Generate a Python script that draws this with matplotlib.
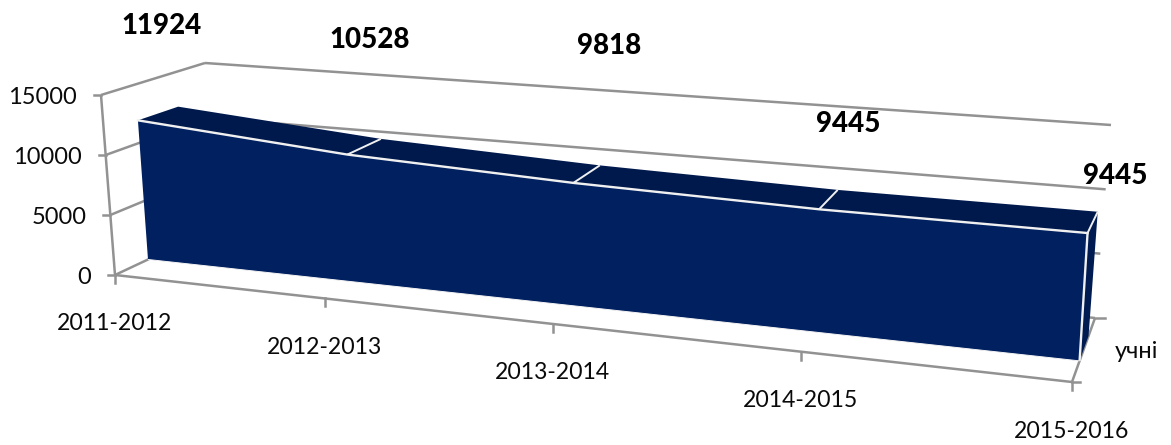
import numpy as np
import matplotlib
matplotlib.use("Agg")
import matplotlib.pyplot as plt

categories = ["2011-2012", "2012-2013", "2013-2014", "2014-2015", "2015-2016"]
values = [11924, 10528, 9818, 9445, 9445]
y_ticks = [0, 5000, 10000, 15000]
series_name = "учні"

W, H = 1171, 445
YMAX = 15000
N = len(categories) - 1

# pixel corners of the 3D box: (category end, value end, depth end)
C = {
    (0, 0, 0): (115, 275), (0, 1, 0): (101, 95),
    (0, 0, 1): (215, 228), (0, 1, 1): (205, 63),
    (1, 0, 0): (1072, 382), (1, 1, 0): (1083, 174),
    (1, 0, 1): (1095, 318), (1, 1, 1): (1111, 125),
}
PERSP = -0.157
D0, D1 = 0.33, 0.72  # depth of the area series inside the box


def project(u, v, w):
    """Category index, value, depth -> pixel coordinates."""
    u, v, w = np.broadcast_arrays(np.asarray(u, float), np.asarray(v, float), np.asarray(w, float))
    s = u / N
    s = s * (1 + PERSP) / (1 + PERSP * s)
    t = v / YMAX
    px = np.zeros(u.shape)
    py = np.zeros(u.shape)
    for (a, b, c), (x, y) in C.items():
        k = (s if a else 1 - s) * (t if b else 1 - t) * (w if c else 1 - w)
        px += k * x
        py += k * y
    return px, py


plt.rcParams["font.family"] = ["Lato", "DejaVu Sans"]
fig = plt.figure(figsize=(W / 100, H / 100), dpi=100)
ax = fig.add_axes([0, 0, 1, 1])
ax.set_xlim(0, W)
ax.set_ylim(H, 0)
ax.axis("off")

GRAY = "#929292"
LW = 1.8
FRONT = "#002060"
TOP = "#00194c"
SIDE = "#001a52"
WHITE = "#f0f0f0"
INK = "#0a0a0a"


def seg(u, v, w, color=GRAY, lw=LW, z=2):
    x, y = project(u, v, w)
    ax.plot(x, y, color=color, lw=lw, solid_capstyle="butt", zorder=z)


# walls and gridlines
for v in y_ticks:
    seg([0, 0], [v, v], [0, 1])
    seg([0, N], [v, v], [1, 1])
    x, y = project(0, v, 0)
    ax.plot([x - 7, x], [y, y], color=GRAY, lw=LW, zorder=2)
    ax.text(x - 24, y + 2, f"{v}", ha="right", va="center", fontsize=17, color=INK)
seg([0, 0], [0, YMAX], [0, 0])
seg([0, N], [0, 0], [0, 0])
seg([N, N], [0, 0], [0, 1])

# category ticks and labels
for i, name in enumerate(categories):
    x, y = project(i, 0, 0)
    ax.plot([x, x], [y, y + 8], color=GRAY, lw=LW, zorder=2)
    ax.text(x, y + 49, name, ha="center", va="center", fontsize=16.6, color=INK)

# depth ticks at the right-hand floor edge
for w in (0, 1):
    x, y = project(N, 0, w)
    ax.plot([x, x + (8 if w == 0 else 10)], [y, y], color=GRAY, lw=LW, zorder=2)
ax.text(1136, 352, series_name, ha="center", va="center", fontsize=17, color=INK)

# area: side, top, front
u = np.arange(len(values))
val = np.array(values, float)

x, y = project([N, N, N, N], [0, val[-1], val[-1], 0], [D0, D0, D1, D1])
ax.fill(x, y, color=SIDE, lw=0, zorder=3)

for i in range(N):
    x, y = project([u[i], u[i + 1], u[i + 1], u[i]],
                   [val[i], val[i + 1], val[i + 1], val[i]],
                   [D0, D0, D1, D1])
    ax.fill(x, y, color=TOP, lw=0, zorder=4)
    seg([u[i + 1], u[i + 1]], [val[i + 1], val[i + 1]], [D0, D1], color=WHITE, lw=1.4, z=5)

x_top, y_top = project(u, val, D0)
x_bot, y_bot = project(u, 0 * val, D0)
ax.fill(np.r_[x_top, x_bot[::-1]], np.r_[y_top, y_bot[::-1]], color=FRONT, lw=0, zorder=6)
ax.plot(x_top, y_top, color=WHITE, lw=1.7, zorder=7)
seg([N, N], [0, val[-1]], [D0, D0], color=WHITE, lw=1.7, z=7)
seg([0, N], [0, 0], [D0, D0], color="#f4f4f4", lw=0.7, z=7)

# data labels sit away from the area, where the reference has them
label_xy = [(162, 26), (370, 40), (609, 46), (848, 124), (1115, 176)]
for (lx, ly), v in zip(label_xy, values):
    ax.text(lx, ly, f"{v}", ha="center", va="center", fontsize=20, fontweight=900, color="#000000")

fig.savefig("out.png", dpi=100)
